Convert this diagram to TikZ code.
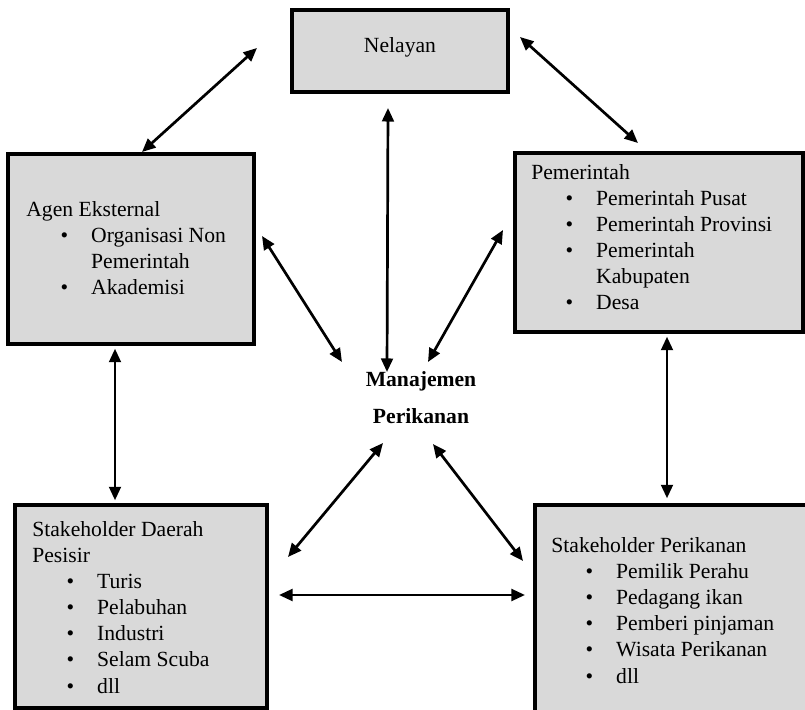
\documentclass[tikz,border=0pt]{standalone}
\usepackage{fontspec}
\setmainfont{Liberation Serif}
\usetikzlibrary{arrows.meta,calc,fit}

\definecolor{boxgray}{HTML}{D9D9D9}
\newcommand{\itm}{\hspace*{19pt}\makebox[17pt][l]{\textbullet}}
\newcommand{\cnt}{\hspace*{36pt}}

\begin{document}
\begin{tikzpicture}[x=0.555pt,y=-0.555pt,
  box/.style={draw,line width=1.9pt,fill=boxgray,inner sep=0pt},
  txt/.style={anchor=base west,align=left,inner sep=0pt,font=\fontsize{12}{14.5}\selectfont},
  link/.style={line width=1.5pt,{Triangle[length=7.5pt,width=6.5pt]}-{Triangle[length=7.5pt,width=6.5pt]}}]

\clip (0,0) rectangle (805,710);

% Boxes
\node[box,fit={(292,10) (508,92)}] (nelayan) {};
\node[box,fit={(8,154) (254,344)}] (agen) {};
\node[box,fit={(515,153) (803,332)}] (pemerintah) {};
\node[box,fit={(15,505) (267,708)}] (pesisir) {};
\node[box,fit={(535,505) (815,720)}] (perikanan) {};

% Texts in the boxes (base = last line)
\node[txt,anchor=base] (nelayan-t) at (400,53) {Nelayan};
\node[txt] (agen-t) at (26,295) {Agen Eksternal\\
  \itm Organisasi Non\\
  \cnt Pemerintah\\
  \itm Akademisi};
\node[txt] (pemerintah-t) at (531,310) {Pemerintah\\
  \itm Pemerintah Pusat\\
  \itm Pemerintah Provinsi\\
  \itm Pemerintah\\
  \cnt Kabupaten\\
  \itm Desa};
\node[txt] (pesisir-t) at (32,693) {Stakeholder Daerah\\
  Pesisir\\
  \itm Turis\\
  \itm Pelabuhan\\
  \itm Industri\\
  \itm Selam Scuba\\
  \itm dll};
\node[txt] (perikanan-t) at (551,683) {Stakeholder Perikanan\\
  \itm Pemilik Perahu\\
  \itm Pedagang ikan\\
  \itm Pemberi pinjaman\\
  \itm Wisata Perikanan\\
  \itm dll};

% Centre
\node[anchor=base,align=center,inner sep=0pt,font=\bfseries\fontsize{12}{20}\selectfont] (mgmt) at (421,423) {Manajemen\\Perikanan};

% Arrow ends
\coordinate (N1) at (257,48);  \coordinate (A1) at (142,152);
\coordinate (N2) at (520,37);  \coordinate (P2) at (638,143);
\coordinate (N3) at (388,108); \coordinate (M3) at (387,372);
\coordinate (A4) at (262,236); \coordinate (M4) at (342,362);
\coordinate (P5) at (503,230); \coordinate (M5) at (428,362);
\coordinate (A6) at ($(agen.south)+(-16,3)$);      \coordinate (S6) at ($(pesisir.north)+(-26,-3)$);
\coordinate (P7) at ($(pemerintah.south)+(8,3)$);  \coordinate (K7) at ($(perikanan.north)+(-8,-5)$);
\coordinate (M8) at (383,443); \coordinate (S8) at (288,557);
\coordinate (M9) at (433,444); \coordinate (K9) at (523,561);
\coordinate (S10) at (279,595); \coordinate (K10) at (525,595);

% Arrows
\draw[link] (N1) -- (A1);
\draw[link] (N2) -- (P2);
\draw[link] (N3) -- (M3);
\draw[link] (A4) -- (M4);
\draw[link] (P5) -- (M5);
\draw[link] (A6) -- (S6);
\draw[link] (P7) -- (K7);
\draw[link] (M8) -- (S8);
\draw[link] (M9) -- (K9);
\draw[link] (S10) -- (K10);

\end{tikzpicture}
\end{document}
